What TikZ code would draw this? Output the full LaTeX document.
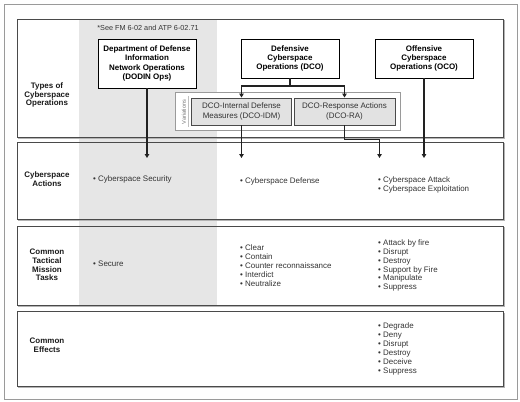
\documentclass[tikz,border=0pt]{standalone}
\usepackage{fontspec}
\setmainfont{Liberation Sans}
\usetikzlibrary{arrows.meta}
\definecolor{colgray}{HTML}{E6E6E6}
\definecolor{subfill}{HTML}{E2E2E2}
\definecolor{rowline}{HTML}{4A4A4A}
\definecolor{rowshade}{HTML}{B4B4B4}
\definecolor{frameline}{HTML}{9A9A9A}
\definecolor{itemtext}{HTML}{333333}
\definecolor{arrline}{HTML}{222222}
\tikzset{
  opbox/.style={draw=black, line width=0.9bp, fill=white, align=center, inner sep=0pt,
    font=\bfseries\fontsize{8}{9.3}\selectfont},
  subbox/.style={draw=rowline, line width=0.9bp, fill=subfill, align=center, inner sep=0pt,
    text=itemtext, font=\fontsize{8}{9.3}\selectfont},
  varbox/.style={draw=frameline, line width=0.8bp, fill=white, inner sep=0pt},
  rowlabel/.style={align=center, inner sep=0pt, font=\bfseries\fontsize{8}{8.8}\selectfont, text=black!90},
  items/.style={align=left, anchor=west, inner sep=0pt, text=itemtext, font=\fontsize{8}{8.9}\selectfont},
  arr/.style={draw=arrline, line width=1.4bp, -{Triangle[length=4bp,width=4.5bp]}},
  conn/.style={draw=arrline, line width=1.4bp},
}
\begin{document}
\begin{tikzpicture}[x=1bp,y=-1bp]
\useasboundingbox (0,0) rectangle (520,401);
% outer frame
\draw[frameline, line width=1bp] (4,4.5) rectangle (517.5,399.5);
% grey column
\fill[colgray] (79,19) rectangle (217,305);
% row boxes with shadow
\foreach \t/\b in {19/137,142/219,226/305,311.5/386}{
  \draw[rowshade, line width=0.9bp] (18.2,\b+1.2) -- (504.2,\b+1.2) -- (504.2,\t+1.2);
  \draw[rowline, line width=0.9bp] (17,\t) rectangle (503,\b);
}
% note
\node[inner sep=0pt, text=itemtext, font=\fontsize{7.3}{8}\selectfont] (note) at (148,28) {*See FM 6-02 and ATP 6-02.71};
% top boxes
\node[opbox, minimum width=98bp, minimum height=49bp] (dodin) at (147,63.5)
  {Department of Defense\\Information\\Network Operations\\(DODIN Ops)};
\node[opbox, minimum width=98bp, minimum height=39bp] (dco) at (290,58.5)
  {Defensive\\Cyberspace\\Operations (DCO)};
\node[opbox, minimum width=98bp, minimum height=39bp] (oco) at (424,58.5)
  {Offensive\\Cyberspace\\Operations (OCO)};
% variations
\node[varbox, minimum width=225bp, minimum height=38bp] (var) at (288,111) {};
\node[rotate=90, inner sep=0pt, text=black!55, font=\fontsize{5.6}{6}\selectfont] (vartext) at (184,112) {Variations};
\draw[black!25, line width=0.5bp] (188.3,96) -- (188.3,127);
\node[subbox, minimum width=100bp, minimum height=27bp] (idm) at (241.5,111.5)
  {DCO-Internal Defense\\Measures (DCO-IDM)};
\node[subbox, minimum width=101bp, minimum height=27bp] (ra) at (344.5,111.5)
  {DCO-Response Actions\\(DCO-RA)};
% row labels
\node[rowlabel] (l1) at (47,95) {Types of\\Cyberspace\\Operations};
\node[rowlabel] (l2) at (47,179) {Cyberspace\\Actions};
\node[rowlabel] (l3) at (47,265) {Common\\Tactical\\Mission\\Tasks};
\node[rowlabel] (l4) at (47,345) {Common\\Effects};
% items
\node[items] (i21) at (93,179.5) {• Cyberspace Security};
\node[items] (i22) at (240,181.5) {• Cyberspace Defense};
\node[items] (i23) at (378,184.5) {• Cyberspace Attack\\• Cyberspace Exploitation};
\node[items] (i31) at (93,263.5) {• Secure};
\node[items] (i32) at (240,265.5) {• Clear\\• Contain\\• Counter reconnaissance\\• Interdict\\• Neutralize};
\node[items] (i33) at (378,265.5) {• Attack by fire\\• Disrupt\\• Destroy\\• Support by Fire\\• Manipulate\\• Suppress};
\node[items] (i43) at (378,349) {• Degrade\\• Deny\\• Disrupt\\• Destroy\\• Deceive\\• Suppress};
% connectors
\coordinate (t1) at (147,158);
\coordinate (t2) at (241.5,158);
\coordinate (t3) at (379.5,158);
\coordinate (t4) at (424,158);
\coordinate (j) at (290,86);
\coordinate (jr) at (344.5,139.5);
\draw[arr] (dodin.south) -- (t1);
\draw[conn] (dco.south) -- (j);
\draw[arr] (j) -| (idm.north);
\draw[arr] (j) -| (ra.north);
\draw[arr] (idm.south) -- (t2);
\draw[conn] (ra.south) -- (jr);
\draw[arr] (jr) -| (t3);
\draw[arr] (oco.south) -- (t4);
\end{tikzpicture}
\end{document}
